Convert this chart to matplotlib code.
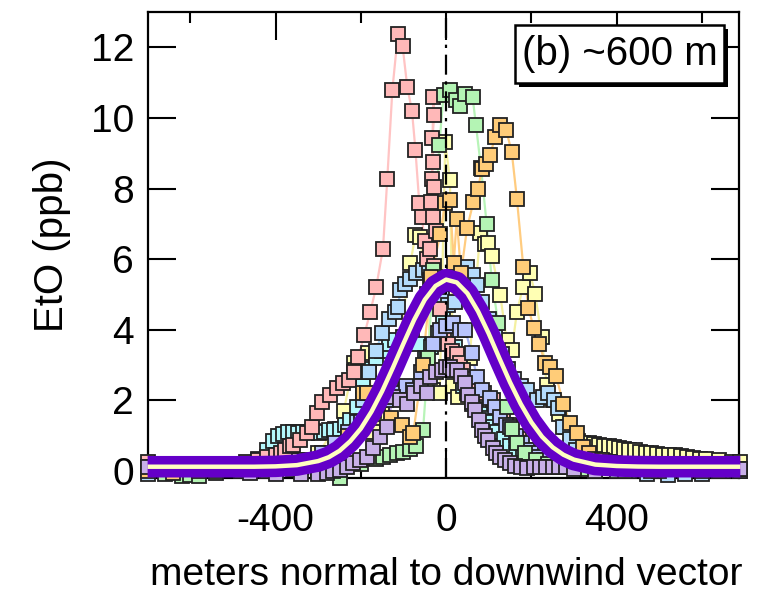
#!/usr/bin/env python3
"""EtO cross-wind transects at ~600 m with Gaussian plume fit."""

import matplotlib
matplotlib.use("Agg")
import matplotlib.pyplot as plt
from matplotlib.patches import Rectangle

plt.rcParams["font.family"] = ["Liberation Sans", "DejaVu Sans"]
plt.rcParams["axes.unicode_minus"] = False

# ---- transect data ----
pink_x = [-700, -660, -620, -580, -540, -500, -470, -440, -420, -400, -388, -377, -365,
          -358, -342, -326, -314, -303, -292, -272, -256, -241, -227, -215, -206, -192,
          -178, -164, -148, -138, -126, -113, -102, -91, -80, -72, -63, -57, -50, -44,
          -38, -30, -28, -32, -30, -34, -28, -36, -30, -24, -38, -28, -20, -14, -6, 4,
          14, 25, 33, 40, 55, 70, 88, 111, 134, 150, 170, 195, 225, 260, 300, 360, 420,
          500, 580, 660]
pink_y = [0.25, 0.15, 0.1, 0.1, 0.15, 0.2, 0.25, 0.3, 0.4, 0.45, 0.5, 0.6, 0.7, 0.73,
          0.87, 1.07, 1.25, 1.63, 1.96, 2.15, 2.35, 2.49, 2.57, 2.8, 3.23, 3.85, 4.5,
          5.2, 6.3, 8.26, 10.8, 12.38, 12.03, 10.87, 10.2, 9.1, 7.6, 7.2, 6.5, 6.0, 5.4,
          10.6, 10.07, 9.42, 8.75, 8.28, 8.04, 7.62, 7.2, 6.8, 6.3, 5.8, 5.2, 4.6, 4.0,
          3.6, 3.4, 3.3, 3.05, 2.86, 2.6, 2.4, 2.2, 2.0, 1.63, 1.3, 0.9, 0.6, 0.4, 0.25,
          0.15, 0.1, 0.1, 0.12, 0.1, 0.1]

green_x = [-700, -660, -620, -600, -580, -540, -480, -420, -360, -300, -249, -200,
           -165, -147, -131, -115, -100, -85, -70, -54, -42, -30, -16, -6, 9, 23, 33,
           45, 62, 70, 82, 95, 107, 122, 130, 143, 155, 166, 185, 210, 240, 280, 330,
           400, 480, 560, 640, 690]
green_y = [0.05, -0.1, -0.15, -0.12, -0.15, -0.05, 0.0, 0.0, 0.05, 0.0, -0.2, 0.2,
           0.35, 0.4, 0.45, 0.5, 0.55, 0.62, 0.7, 1.16, 3.2, 5.7, 9.22, 10.66, 10.78,
           10.5, 10.33, 10.68, 10.6, 9.8, 8.57, 7.0, 5.42, 4.2, 3.0, 1.8, 1.2, 0.8, 0.5,
           0.3, 0.2, 0.1, 0.05, 0.0, 0.0, 0.05, 0.0, 0.05]

orange_x = [-700, -640, -580, -520, -460, -400, -340, -280, -230, -194, -186, -160,
            -130, -104, -84, -77, -55, -35, -14, -2, 9, 18, 25, 35, 49, 64, 75, 84, 93,
            103, 115, 127, 141, 154, 166, 181, 193, 205, 219, 232, 244, 258, 275, 291,
            306, 321, 335, 350, 365, 385, 420, 480, 560, 640, 690]
orange_y = [0.0, -0.05, 0.0, 0.05, 0.0, 0.05, 0.1, 0.3, 1.0, 2.2, 2.2, 1.9, 1.5, 1.3,
            0.97, 1.07, 3.0, 5.5, 6.7, 7.6, 7.67, 5.9, 7.15, 5.6, 6.87, 7.62, 8.0, 8.56,
            8.7, 8.94, 9.46, 9.79, 9.65, 9.03, 7.71, 5.78, 4.63, 4.06, 3.59, 3.05, 2.95,
            2.69, 1.9, 1.35, 1.07, 0.68, 0.5, 0.35, 0.3, 0.25, 0.15, 0.1, 0.05, 0.0, 0.05]

yellow_x = [-700, -640, -580, -520, -460, -400, -350, -300, -260, -240, -217, -213,
            -182, -171, -150, -130, -110, -84, -72, -61, -45, -30, -15, -2, 9, 17, 28,
            40, 55, 80, 91, 98, 107, 127, 142, 154, 166, 180, 197, 209, 224, 236, 250,
            265, 280, 295, 310, 322, 334, 346, 358, 370, 382, 394, 406, 418, 430, 443,
            455, 468, 480, 494, 508, 522, 536, 550, 565, 580, 595, 610, 640, 670, 690]
yellow_y = [0.1, 0.15, 0.1, 0.1, 0.15, 0.2, 0.3, 0.5, 1.2, 1.7, 3.05, 2.86, 3.33, 1.1,
            1.6, 2.4, 3.6, 5.88, 6.67, 6.63, 5.0, 2.3, 2.2, 9.32, 8.23, 2.4, 2.1, 2.5,
            3.2, 6.73, 6.44, 6.45, 6.1, 4.98, 3.7, 3.42, 4.5, 5.2, 5.6, 5.0, 3.8, 2.43,
            2.0, 1.6, 1.25, 0.95, 0.85, 0.8, 0.78, 0.76, 0.74, 0.72, 0.7, 0.68, 0.66,
            0.63, 0.6, 0.58, 0.55, 0.52, 0.5, 0.48, 0.46, 0.45, 0.44, 0.42, 0.4, 0.38,
            0.35, 0.33, 0.3, 0.25, 0.25]

cyan_x = [-700, -640, -580, -520, -470, -440, -420, -405, -395, -383, -371, -359, -347,
          -335, -323, -311, -299, -287, -275, -263, -250, -238, -226, -210, -195, -180,
          -165, -150, -135, -120, -100, -80, -65, -50, -35, -20, -8, 5, 20, 30, 40, 50,
          60, 70, 80, 90, 100, 110, 120, 135, 150, 165, 180, 200, 225, 260, 320, 400,
          500, 600, 690]
cyan_y = [0.05, 0.0, 0.05, 0.1, 0.2, 0.35, 0.6, 0.85, 1.0, 1.05, 1.1, 1.1, 1.08, 1.1,
          1.1, 1.12, 1.08, 1.1, 1.15, 1.16, 1.2, 1.3, 1.45, 1.8, 2.4, 2.9, 3.2, 3.4,
          3.6, 3.7, 3.8, 3.9, 3.6, 3.2, 3.5, 3.9, 4.3, 4.0, 3.5, 2.9, 2.4, 2.2, 1.9, 1.75,
          1.6, 1.5, 1.4, 1.25, 1.1, 0.9, 0.7, 0.55, 0.4, 0.3, 0.2, 0.15, 0.1, 0.05,
          0.05, 0.0, 0.05]

blue_x = [-700, -620, -540, -460, -380, -300, -260, -240, -225, -210, -195, -180, -165,
          -150, -135, -120, -112, -108, -96, -84, -70, -55, -40, -25, -10, 5, 20, 35,
          48, 64, 72, 85, 100, 115, 130, 145, 160, 175, 190, 212, 228, 240, 252, 263,
          275, 290, 305, 320, 340, 380, 430, 470, 520, 560, 600, 650, 690]
blue_y = [-0.1, 0.0, 0.05, 0.1, 0.1, 0.2, 0.4, 0.7, 0.97, 1.4, 2.0, 2.8, 3.4, 3.9, 4.3,
          4.5, 4.65, 5.12, 5.3, 5.45, 5.6, 5.7, 5.75, 5.5, 4.9, 4.7, 4.8, 5.3, 5.78,
          5.54, 5.26, 4.8, 4.3, 3.8, 3.3, 2.9, 2.6, 2.4, 2.3, 2.0, 2.1, 2.2, 2.0, 1.77,
          1.25, 0.9, 0.6, 0.4, 0.25, 0.1, 0.0, -0.1, -0.12, -0.1, -0.1, 0.0, 0.0]

peri_x = [-700, -600, -500, -400, -330, -290, -260, -230, -200, -170, -140, -115, -95,
          -77, -60, -45, -30, -14, 0, 15, 33, 45, 60, 72, 85, 103, 115, 127, 140, 150,
          165, 178, 189, 200, 212, 230, 260, 300, 350, 420, 500, 600, 690]
peri_y = [0.1, 0.1, 0.15, 0.2, 0.3, 0.5, 0.8, 1.1, 1.4, 1.7, 2.0, 2.2, 2.4, 2.3, 2.8,
          3.2, 3.6, 3.99, 4.1, 4.2, 4.0, 3.99, 3.33, 2.67, 2.3, 2.06, 1.8, 1.53, 1.3,
          1.25, 1.0, 0.8, 0.59, 0.5, 0.4, 0.3, 0.2, 0.1, 0.05, 0.0, 0.0, 0.0, 0.0]

lav_x = [-700, -620, -540, -460, -400, -340, -300, -280, -265, -249, -233, -218, -202,
         -186, -171, -155, -139, -124, -108, -92, -75, -60, -45, -38, -24, -10, 0, 9,
         17, 25, 35, 45, 52, 60, 68, 76, 84, 92, 99, 110, 118, 127, 138, 150, 162, 175,
         190, 205, 220, 235, 250, 265, 280, 300, 350, 420, 500, 600, 690]
lav_y = [0.1, 0.05, 0.0, -0.05, -0.1, -0.1, -0.08, -0.05, 0.0, 0.03, 0.1, 0.22, 0.3,
         0.4, 0.65, 0.97, 1.25, 2.1, 2.0, 1.91, 2.2, 2.4, 2.2, 2.67, 2.8, 2.86, 2.95,
         2.95, 2.86, 2.86, 2.7, 2.48, 2.15, 1.95, 1.72, 1.45, 1.16, 1.0, 0.88, 0.65,
         0.5, 0.4, 0.3, 0.22, 0.15, 0.1, 0.08, 0.1, 0.1, 0.1, 0.1, 0.1, 0.1, 0.05, 0.0,
         0.0, 0.05, 0.05, 0.05]

# Gaussian fit, sampled along the drawn curve
fit_x = [-700, -600, -500, -450, -400, -350, -300, -275, -250, -225, -200, -175, -150,
         -125, -100, -75, -50, -25, 0, 25, 50, 75, 100, 125, 150, 175, 200, 225, 250,
         275, 300, 350, 400, 450, 500, 600, 690]
fit_y = [0.12, 0.12, 0.12, 0.12, 0.13, 0.165, 0.28, 0.39, 0.57, 0.84, 1.20, 1.68, 2.26,
         2.92, 3.61, 4.28, 4.85, 5.24, 5.42, 5.34, 5.03, 4.52, 3.89, 3.19, 2.51, 1.90,
         1.38, 0.97, 0.67, 0.46, 0.32, 0.18, 0.14, 0.125, 0.12, 0.12, 0.12]

series = [
    (yellow_x, yellow_y, "#ffffb4", "#f4f0a0"),
    (cyan_x, cyan_y, "#b4f8fc", "#a0eef4"),
    (blue_x, blue_y, "#b4dcfc", "#a4d0f4"),
    (pink_x, pink_y, "#ffb8b8", "#ffc4c4"),
    (peri_x, peri_y, "#b8c4fc", "#aab8f4"),
    (green_x, green_y, "#b4f4b4", "#b8f4b8"),
    (orange_x, orange_y, "#ffcc78", "#ffcc80"),
    (lav_x, lav_y, "#c8b0e8", "#c0a8e4"),
]


def main() -> None:
    fig = plt.figure(figsize=(7.82, 6.13), dpi=100)
    ax = fig.add_axes([0.1893, 0.2202, 0.7558, 0.7602])

    for xs, ys, face, line in series:
        ax.plot(xs, ys, color=line, lw=1.6, zorder=2)
        ax.plot(xs, ys, ls="none", marker="s", ms=10, mfc=face, mec="#222222",
                mew=1.3, zorder=3, clip_on=False)

    ax.axvline(0, color="black", lw=1.6, ls=(0, (9, 3, 1.5, 3)), zorder=4)

    ax.plot(fit_x, fit_y, color="#6400c8", lw=15.5, solid_joinstyle="round",
            solid_capstyle="butt", zorder=5, clip_on=False)
    ax.plot(fit_x, fit_y, color="#ffffc0", lw=3.2, solid_joinstyle="round",
            solid_capstyle="butt", zorder=6, clip_on=False)

    ax.set_xlim(-699, 687)
    ax.set_ylim(-0.2, 13.0)
    ax.set_xticks([-400, 0, 400])
    ax.set_xticks([-600, -200, 200, 600], minor=True)
    ax.set_yticks([0, 2, 4, 6, 8, 10, 12])
    ax.tick_params(which="major", direction="in", length=20, width=1.5,
                   top=True, right=True, labelsize=28)
    ax.tick_params(axis="x", which="major", pad=18)
    ax.tick_params(axis="y", which="major", pad=10)
    ax.tick_params(which="minor", direction="in", length=8, width=1.5,
                   top=True, right=True)
    for side in ax.spines.values():
        side.set_linewidth(1.6)

    ax.set_xlabel("meters normal to downwind vector", fontsize=28, labelpad=18)
    ax.xaxis.set_label_coords(0.504, -0.17)
    ax.set_ylabel("EtO (ppb)", fontsize=29, labelpad=14)

    # annotation box with drop shadow
    bx, by, bw, bh = 0.621, 0.848, 0.354, 0.124
    ax.add_patch(Rectangle((bx + 0.0068, by - 0.0086), bw, bh, transform=ax.transAxes,
                           fc="black", ec="none", zorder=9, clip_on=False))
    ax.add_patch(Rectangle((bx, by), bw, bh, transform=ax.transAxes, fc="white",
                           ec="black", lw=1.8, zorder=10, clip_on=False))
    ax.text(bx + bw / 2, by + bh / 2, "(b) ~600 m", transform=ax.transAxes,
            fontsize=29, ha="center", va="center", zorder=11)

    fig.savefig("out.png", dpi=100)
    plt.close(fig)


if __name__ == "__main__":
    main()
